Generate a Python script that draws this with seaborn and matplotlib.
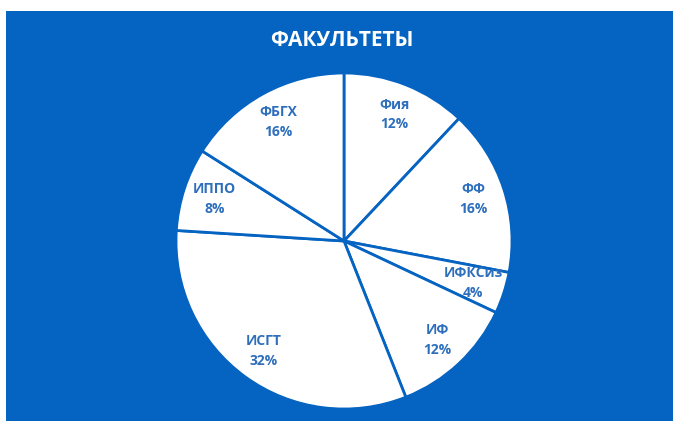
import matplotlib
matplotlib.use("Agg")
import matplotlib.pyplot as plt
from matplotlib.patches import Rectangle
import seaborn as sns

faculties = ["Фия", "ФФ", "ИФКСиз", "ИФ", "ИСГТ", "ИППО", "ФБГХ"]
shares = [12, 16, 4, 12, 32, 8, 16]
title = "ФАКУЛЬТЕТЫ"

BLUE = "#0563C1"
LABEL_BLUE = "#2E6FBD"

sns.set_style("white")
plt.rcParams["font.family"] = ["Open Sans", "DejaVu Sans"]

W, H = 673, 421
fig = plt.figure(figsize=(W / 100, H / 100), dpi=100)
fig.patch.set_facecolor("white")
bg = Rectangle((6 / W, 0), 1, (H - 11) / H, transform=fig.transFigure,
               facecolor=BLUE, edgecolor="none", zorder=-10)
fig.add_artist(bg)

cx, cy, r = 344, 241, 168
ax = fig.add_axes([(cx - r) / W, (H - cy - r) / H, 2 * r / W, 2 * r / H])
ax.set_facecolor("none")
ax.set_zorder(5)

labels = [f"{n}\n{v}%" for n, v in zip(faculties, shares)]
wedges, texts = ax.pie(shares, labels=labels, startangle=90, counterclock=False,
                       labeldistance=0.81, radius=1,
                       colors=["white"] * len(shares),
                       wedgeprops=dict(edgecolor=BLUE, linewidth=2.0),
                       textprops=dict(color=LABEL_BLUE, fontsize=10, fontweight="bold",
                                      ha="center", va="center", linespacing=1.5))
for t in texts:
    t.set_horizontalalignment("center")
ax.set_xlim(-1.0, 1.0)
ax.set_ylim(-1.0, 1.0)
ax.set_aspect("equal")
ax.axis("off")

fig.text(342 / W, 1 - 41 / H, title, color="white", fontsize=15, fontweight="bold",
         ha="center", va="center", zorder=6)

fig.savefig("out.png", dpi=100, facecolor=fig.get_facecolor())
